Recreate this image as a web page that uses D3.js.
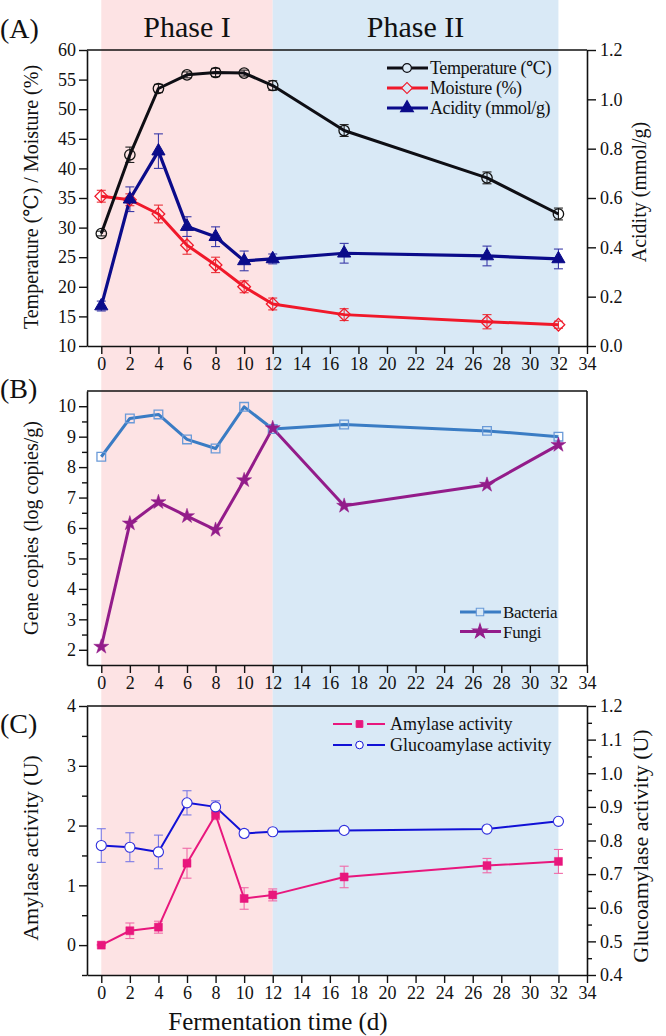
<!DOCTYPE html>
<html>
<head>
<meta charset="utf-8">
<script src="https://cdn.jsdelivr.net/npm/d3@7"></script>
<style>
  html, body { margin: 0; padding: 0; background: #fff; }
  svg { display: block; }
  svg text { font-family: "Liberation Serif", "DejaVu Serif", serif !important; fill: #111; }
</style>
</head>
<body>
<svg id="chart" width="666" height="1036"></svg>
<script>
// ---------- DATA ----------
const days = [0, 2, 4, 6, 8, 10, 12, 17, 27, 32];
const xTickValues = [0, 2, 4, 6, 8, 10, 12, 14, 16, 18, 20, 22, 24, 26, 28, 30, 32, 34];

// Panel A
const temperature = [29.0, 42.3, 53.5, 55.8, 56.2, 56.1, 54.0, 46.4, 38.4, 32.3];
const temperatureErr = [0.4, 1.3, 0.7, 0.5, 0.7, 0.5, 0.8, 1.0, 1.0, 1.0];
const moisture = [35.3, 34.7, 32.3, 27.0, 23.7, 20.0, 17.1, 15.3, 14.1, 13.6];
const moistureErr = [1.0, 1.0, 1.5, 1.5, 1.3, 1.0, 1.0, 1.0, 1.2, 0.6];
const acidity = [0.162, 0.595, 0.79, 0.484, 0.443, 0.345, 0.353, 0.376, 0.365, 0.353];
const acidityErr = [0.02, 0.05, 0.07, 0.04, 0.04, 0.04, 0.02, 0.04, 0.04, 0.04];
const leftTicksA = [10, 15, 20, 25, 30, 35, 40, 45, 50, 55, 60];
const rightTicksA = [0.0, 0.2, 0.4, 0.6, 0.8, 1.0, 1.2];

// Panel B
const bacteria = [8.34, 9.60, 9.73, 8.91, 8.61, 9.98, 9.25, 9.40, 9.19, 9.00];
const fungi = [2.10, 6.15, 6.85, 6.39, 5.94, 7.57, 9.28, 6.73, 7.42, 8.73];
const leftTicksB = [2, 3, 4, 5, 6, 7, 8, 9, 10];
const minorTicksB = [2.5, 3.5, 4.5, 5.5, 6.5, 7.5, 8.5, 9.5];

// Panel C
const amylase = [0.00, 0.24, 0.30, 1.37, 2.18, 0.78, 0.84, 1.14, 1.33, 1.40];
const amylaseErr = [0.01, 0.13, 0.10, 0.25, 0.08, 0.18, 0.10, 0.18, 0.12, 0.20];
const glucoamylase = [0.785, 0.780, 0.766, 0.912, 0.900, 0.821, 0.826, 0.830, 0.834, 0.857];
const glucoamylaseErr = [0.050, 0.043, 0.050, 0.036, 0.018, 0.010, 0.005, 0.004, 0.004, 0.005];
const leftTicksC = [0, 1, 2, 3, 4];
const leftMinorC = [-0.5, 0.5, 1.5, 2.5, 3.5];
const rightTicksC = [0.4, 0.5, 0.6, 0.7, 0.8, 0.9, 1.0, 1.1, 1.2];
const rightMinorC = [0.45, 0.55, 0.65, 0.75, 0.85, 0.95, 1.05, 1.15];

const phases = [
  { name: "Phase I", from: 0, to: 12, color: "#fde3e4" },
  { name: "Phase II", from: 12, to: 32, color: "#d9e9f6" }
];

// ---------- SETUP ----------
const SERIF = '"Liberation Serif", "DejaVu Serif", serif';
const svg = d3.select("#chart").style("font-family", SERIF);
svg.append("rect").attr("width", 666).attr("height", 1036).attr("fill", "#fff");

const X0 = 87, X1 = 587;
const x = d3.scaleLinear().domain([-1, 34]).range([X0, X1]);

const A = { top: 50, bottom: 346 };
const B = { top: 391, bottom: 665 };
const C = { top: 706, bottom: 975 };

const yA = d3.scaleLinear().domain([10, 60]).range([A.bottom, A.top]);
const yAR = d3.scaleLinear().domain([0, 1.2]).range([A.bottom, A.top]);
const yB = d3.scaleLinear().domain([1.5, 10.5]).range([B.bottom, B.top]);
const yC = d3.scaleLinear().domain([-0.5, 4]).range([C.bottom, C.top]);
const yCR = d3.scaleLinear().domain([0.4, 1.2]).range([C.bottom, C.top]);

function txt(sel) { return sel.style("font-family", SERIF).attr("fill", "#111"); }

// Phase shading
phases.forEach(p => {
  svg.append("rect")
    .attr("x", x(p.from)).attr("y", 0)
    .attr("width", x(p.to) - x(p.from)).attr("height", C.bottom)
    .attr("fill", p.color);
  txt(svg.append("text")
    .attr("x", (x(p.from) + x(p.to)) / 2)
    .attr("y", 37)
    .attr("text-anchor", "middle")
    .attr("font-size", 30)
    .text(p.name));
});

// ---------- AXIS HELPERS ----------
function styleAxis(g, fs) {
  g.attr("font-family", SERIF);
  g.selectAll(".domain").attr("stroke", "#111").attr("stroke-width", 1.6);
  g.selectAll(".tick line").attr("stroke", "#111").attr("stroke-width", 1.4);
  g.selectAll(".tick text").attr("font-size", fs || 18).attr("fill", "#111")
    .style("font-family", SERIF);
}
function bottomAxis(yPos) {
  const g = svg.append("g").attr("transform", `translate(0,${yPos})`)
    .call(d3.axisBottom(x).tickValues(xTickValues).tickSize(8).tickPadding(3).tickSizeOuter(0));
  styleAxis(g, 18);
}
function leftAxis(scale, ticks, fmt, minor) {
  const g = svg.append("g").attr("transform", `translate(${X0},0)`)
    .call(d3.axisLeft(scale).tickValues(ticks).tickFormat(fmt).tickSize(8).tickPadding(3).tickSizeOuter(0));
  styleAxis(g, 18);
  if (minor) {
    const m = svg.append("g").attr("transform", `translate(${X0},0)`)
      .call(d3.axisLeft(scale).tickValues(minor).tickFormat("").tickSize(5).tickSizeOuter(0));
    m.select(".domain").remove();
    styleAxis(m);
  }
}
function rightAxis(scale, ticks, fmt, minor) {
  const g = svg.append("g").attr("transform", `translate(${X1},0)`)
    .call(d3.axisRight(scale).tickValues(ticks).tickFormat(fmt).tickSize(9).tickPadding(4).tickSizeOuter(0));
  styleAxis(g, 18);
  if (minor) {
    const m = svg.append("g").attr("transform", `translate(${X1},0)`)
      .call(d3.axisRight(scale).tickValues(minor).tickFormat("").tickSize(5).tickSizeOuter(0));
    m.select(".domain").remove();
    styleAxis(m);
  }
}
function hline(yPos) {
  svg.append("line").attr("x1", X0).attr("x2", X1).attr("y1", yPos).attr("y2", yPos)
    .attr("stroke", "#111").attr("stroke-width", 1.6);
}
function vline(xPos, y1, y2) {
  svg.append("line").attr("x1", xPos).attr("x2", xPos).attr("y1", y1).attr("y2", y2)
    .attr("stroke", "#111").attr("stroke-width", 1.6);
}
function yTitle(t, xPos, yCenter, fs) {
  txt(svg.append("text")
    .attr("transform", `translate(${xPos},${yCenter}) rotate(-90)`)
    .attr("text-anchor", "middle").attr("font-size", fs || 20).text(t));
}

// ---------- SERIES HELPERS ----------
function errorBars(vals, errs, scale, color, cap) {
  const g = svg.append("g").attr("stroke", color).attr("stroke-width", 1.1).attr("fill", "none");
  days.forEach((d, i) => {
    const cx = x(d), y1 = scale(vals[i] - errs[i]), y2 = scale(vals[i] + errs[i]);
    g.append("line").attr("x1", cx).attr("x2", cx).attr("y1", y1).attr("y2", y2);
    g.append("line").attr("x1", cx - cap).attr("x2", cx + cap).attr("y1", y1).attr("y2", y1);
    g.append("line").attr("x1", cx - cap).attr("x2", cx + cap).attr("y1", y2).attr("y2", y2);
  });
}
function seriesLine(vals, scale, color, w) {
  const line = d3.line().x((d, i) => x(days[i])).y(d => scale(d));
  svg.append("path").datum(vals).attr("d", line)
    .attr("fill", "none").attr("stroke", color).attr("stroke-width", w)
    .attr("stroke-linejoin", "round");
}
function markers(vals, scale, type, size, fill, stroke, sw, rot) {
  const sym = d3.symbol().type(type).size(size);
  svg.append("g").selectAll("path").data(vals).join("path")
    .attr("transform", (d, i) => `translate(${x(days[i])},${scale(d)}) rotate(${rot || 0})`)
    .attr("d", sym).attr("fill", fill).attr("stroke", stroke).attr("stroke-width", sw);
}

// ---------- PANEL A ----------
hline(A.top);
leftAxis(yA, leftTicksA, d3.format("d"));
rightAxis(yAR, rightTicksA, d3.format(".1f"));
bottomAxis(A.bottom);

errorBars(temperature, temperatureErr, yA, "#222", 4.5);
errorBars(moisture, moistureErr, yA, "#e8333a", 4.5);
errorBars(acidity, acidityErr, yAR, "#3a3aa8", 4.5);

seriesLine(moisture, yA, "#f0192a", 3);
seriesLine(temperature, yA, "#0e0e14", 3);
seriesLine(acidity, yAR, "#0b0b8a", 3.2);

markers(temperature, yA, d3.symbolCircle, 85, "none", "#111", 1.3);
markers(moisture, yA, d3.symbolSquare, 80, "none", "#f0192a", 1.3, 45);
markers(acidity, yAR, d3.symbolTriangle, 75, "#0b0b8a", "#0b0b8a", 1);

yTitle("Temperature (\u2103) / Moisture (%)", 38, 197, 20);
yTitle("Acidity (mmol/g)", 646, 192, 20);
txt(svg.append("text").attr("x", 0).attr("y", 38).attr("font-size", 28).text("(A)"));

// Legend A
const legA = [
  { label: "Temperature (\u2103)", color: "#0e0e14", type: d3.symbolCircle, size: 60, fill: "none", rot: 0 },
  { label: "Moisture (%)", color: "#f0192a", type: d3.symbolSquare, size: 60, fill: "none", rot: 45 },
  { label: "Acidity (mmol/g)", color: "#0b0b8a", type: d3.symbolTriangle, size: 70, fill: "#0b0b8a", rot: 0 }
];
legA.forEach((l, i) => {
  const ly = 68 + i * 20;
  svg.append("line").attr("x1", 387).attr("x2", 428).attr("y1", ly).attr("y2", ly)
    .attr("stroke", l.color).attr("stroke-width", 3);
  svg.append("path").attr("d", d3.symbol().type(l.type).size(l.size)())
    .attr("transform", `translate(407,${ly}) rotate(${l.rot})`)
    .attr("fill", l.fill === "none" ? "#d9e9f6" : l.fill).attr("stroke", l.color).attr("stroke-width", 1.2);
  txt(svg.append("text").attr("x", 430).attr("y", ly + 6).attr("font-size", 18)
    .attr("letter-spacing", -0.4).text(l.label));
});

// ---------- PANEL B ----------
hline(B.top);
vline(X1, B.top, B.bottom);
leftAxis(yB, leftTicksB, d3.format("d"), minorTicksB);
bottomAxis(B.bottom);

seriesLine(bacteria, yB, "#3a7cc4", 3);
seriesLine(fungi, yB, "#931c8a", 3);
markers(bacteria, yB, d3.symbolSquare, 75, "none", "#6a9ad8", 1.3);
markers(fungi, yB, d3.symbolStar, 70, "#931c8a", "#931c8a", 0.5);

yTitle("Gene copies (log copies/g)", 38, 528, 20);
txt(svg.append("text").attr("x", 0).attr("y", 398).attr("font-size", 28).text("(B)"));

const legB = [
  { label: "Bacteria", color: "#3a7cc4", type: d3.symbolSquare, size: 55, fill: "none", stroke: "#6a9ad8" },
  { label: "Fungi", color: "#931c8a", type: d3.symbolStar, size: 65, fill: "#931c8a", stroke: "#931c8a" }
];
legB.forEach((l, i) => {
  const ly = 612 + i * 19.5;
  svg.append("line").attr("x1", 460).attr("x2", 501).attr("y1", ly).attr("y2", ly)
    .attr("stroke", l.color).attr("stroke-width", 3);
  svg.append("path").attr("d", d3.symbol().type(l.type).size(l.size)())
    .attr("transform", `translate(480,${ly})`)
    .attr("fill", l.fill === "none" ? "#d9e9f6" : l.fill).attr("stroke", l.stroke).attr("stroke-width", 1.1);
  txt(svg.append("text").attr("x", 503).attr("y", ly + 6).attr("font-size", 17)
    .attr("letter-spacing", -0.3).text(l.label));
});

// ---------- PANEL C ----------
hline(C.top);
leftAxis(yC, leftTicksC, d3.format("d"), leftMinorC);
rightAxis(yCR, rightTicksC, d3.format(".1f"), rightMinorC);
bottomAxis(C.bottom);

errorBars(amylase, amylaseErr, yC, "#f06aa8", 4.5);
errorBars(glucoamylase, glucoamylaseErr, yCR, "#7a7ae6", 4.5);

seriesLine(amylase, yC, "#e8177d", 2);
seriesLine(glucoamylase, yCR, "#1111d6", 2);
markers(amylase, yC, d3.symbolSquare, 64, "#e8177d", "#e8177d", 0.5);
markers(glucoamylase, yCR, d3.symbolCircle, 80, "#fff", "#3030dd", 1.1);

yTitle("Amylase activity (U)", 38, 848, 22);
yTitle("Glucoamylase activity (U)", 648, 846, 22);
txt(svg.append("text").attr("x", 0).attr("y", 733).attr("font-size", 28).text("(C)"));

const legC = [
  { label: "Amylase activity", color: "#e8177d", type: d3.symbolSquare, size: 45, fill: "#e8177d" },
  { label: "Glucoamylase activity", color: "#1111d6", type: d3.symbolCircle, size: 45, fill: "#fff" }
];
legC.forEach((l, i) => {
  const ly = 724 + i * 21;
  svg.append("line").attr("x1", 333).attr("x2", 352).attr("y1", ly).attr("y2", ly)
    .attr("stroke", l.color).attr("stroke-width", 2);
  svg.append("line").attr("x1", 367).attr("x2", 385).attr("y1", ly).attr("y2", ly)
    .attr("stroke", l.color).attr("stroke-width", 2);
  svg.append("path").attr("d", d3.symbol().type(l.type).size(l.size)())
    .attr("transform", `translate(359.5,${ly})`)
    .attr("fill", l.fill).attr("stroke", l.color).attr("stroke-width", 1);
  txt(svg.append("text").attr("x", 390).attr("y", ly + 6).attr("font-size", 18).text(l.label));
});

// X axis title
txt(svg.append("text").attr("x", 278).attr("y", 1030).attr("text-anchor", "middle")
  .attr("font-size", 25).text("Fermentation time (d)"));
</script>
</body>
</html>
